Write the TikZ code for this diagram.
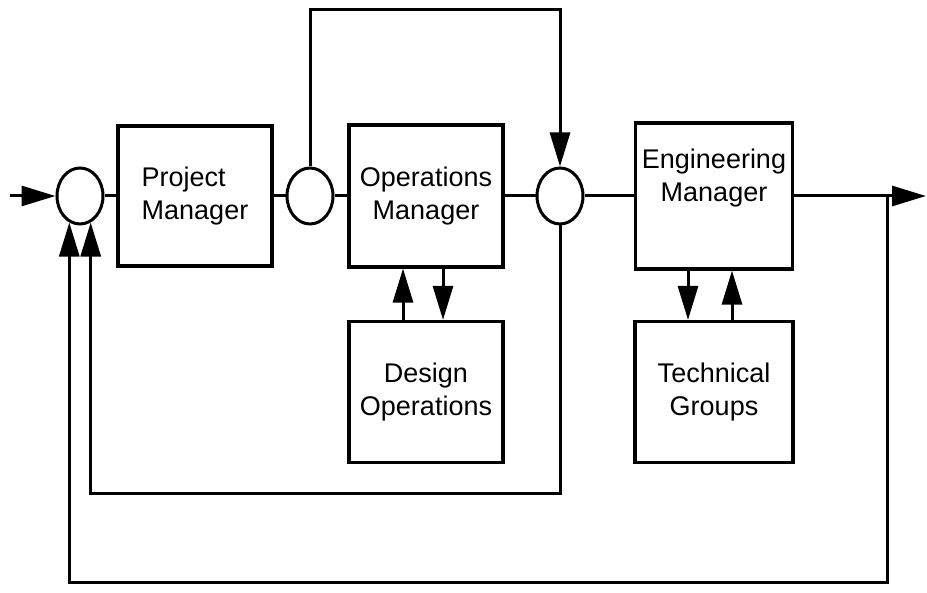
\documentclass[tikz,border=0pt]{standalone}
\usepackage{fontspec}
\setmainfont{Liberation Sans}
\usetikzlibrary{shapes.geometric,arrows.meta}

\tikzset{
  block/.style={draw, line width=1.6pt, minimum width=77pt, minimum height=71pt,
    align=center, font=\fontsize{13.5}{16.5}\selectfont},
  junction/.style={draw, ellipse, line width=1.5pt, minimum width=23pt,
    minimum height=28pt, inner sep=0pt},
  line/.style={line width=1.5pt},
  sig/.style={line width=1.5pt, -{Triangle[length=17pt,width=10pt]}},
}

\begin{document}
\begin{tikzpicture}[x=0.5pt, y=-0.5pt]
\useasboundingbox (0,0) rectangle (927,593);
% nodes
\node[junction] (s1) at (80,196) {};
\node[block, align=left, minimum height=70pt] (pm) at (195,196) {Project\\Manager};
\node[junction] (s2) at (310,196) {};
\node[block] (om) at (426,196) {Operations\\Manager};
\node[junction] (s3) at (560,196) {};
\node[block, minimum width=78.5pt, minimum height=73pt,
  label={[name=emtext, align=center, font=\fontsize{13.5}{16.5}\selectfont, yshift=9pt]center:Engineering\\Manager}]
  (em) at (714,196) {};
    \node[block, minimum height=70.5pt] (do) at (426,392) {Design\\Operations};
    \node[block, minimum width=79pt, minimum height=70.5pt] (tg) at (714,392) {Technical\\Groups};
% helper points
\coordinate (in)   at (10,196);
\coordinate (out)  at (926,196);
\coordinate (br)   at (887,196);
\coordinate (topy) at (0,10);
\coordinate (midy) at (0,493);
\coordinate (lowy) at (0,582);
% arrows
\draw[sig] (in) -- (s1.west);
\draw[line] (s1.east) -- (pm.west);
\draw[line] (pm.east) -- (s2.west);
\draw[line] (s2.east) -- (om.west);
\draw[line] (om.east) -- (s3.west);
\draw[line] (s3.east) -- (em.west);
\draw[sig] (em.east) -- (out);

\draw[sig] (s2.north) -- (s2.north |- topy) -| (s3.north);

\draw[sig] (s3.south) -- (s3.south |- midy) -| (s1.-68);
\draw[sig] (br) -- (br |- lowy) -| (s1.-112);

    \draw[sig] ([xshift=-11.5pt]do.north) -- ([xshift=-11.5pt]om.south);
    \draw[sig] ([xshift=8.5pt]om.south) -- ([xshift=8.5pt]do.north);
    \draw[sig] ([xshift=-13pt]em.south) -- ([xshift=-13pt]tg.north);
    \draw[sig] ([xshift=9pt]tg.north) -- ([xshift=9pt]em.south);
\end{tikzpicture}
\end{document}
